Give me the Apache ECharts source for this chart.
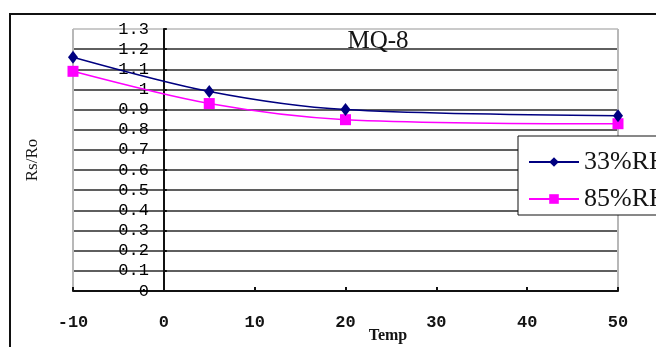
<!DOCTYPE html>
<html>
<head>
<meta charset="utf-8">
<script src="https://cdn.jsdelivr.net/npm/echarts@6/dist/echarts.min.js"></script>
<style>
  html, body { margin: 0; padding: 0; background: #fff; }
  #chart { width: 656px; height: 347px; }
</style>
</head>
<body>
<div id="chart"></div>
<script>
// Sensor ratio Rs/Ro versus temperature at two humidity levels
const temps = [-10, 5, 20, 50];
const rh33 = [1.16, 0.99, 0.90, 0.87];
const rh85 = [1.09, 0.93, 0.85, 0.83];
const seriesNames = ['33%RH', '85%RH'];
const titleText = 'MQ-8';
const xName = 'Temp';
const yName = 'Rs/Ro';

const monoFont = '"Liberation Mono", monospace';
const serifFont = '"Liberation Serif", serif';
const ink = '#141414';

// plot box in pixels
const gridLeft = 73, gridRight = 38, gridTop = 29, gridBottom = 56;
const chartW = 656;
const xMin = -10, xMax = 50;
// the value axis crosses the temperature axis at Temp = 0
const plotW = chartW - gridLeft - gridRight;
const yAxisOffset = -plotW * (0 - xMin) / (xMax - xMin);

// 14 horizontal grid lines (0 .. 1.3); the top one is the light plot border
const ySplitColors = [];
for (let i = 0; i < 13; i++) ySplitColors.push('#2a2a2a');
ySplitColors.push('#b8b8b8');
// vertical lines only at the plot's left and right borders
const clear = 'rgba(0,0,0,0)';
const xSplitColors = ['#b8b8b8', clear, clear, clear, clear, clear, '#b8b8b8'];

const chart = echarts.init(document.getElementById('chart'), null, { renderer: 'canvas' });

chart.setOption({
  animation: false,
  backgroundColor: '#fff',
  title: {
    text: titleText,
    left: 373, top: 24,
    textAlign: 'center',
    textStyle: { fontFamily: serifFont, fontSize: 25, fontWeight: 'normal', color: ink }
  },
  legend: {
    orient: 'vertical',
    left: 518, top: 136,
    padding: [13, 40, 3, 10],
    itemGap: 11,
    itemWidth: 50, itemHeight: 12,
    backgroundColor: '#fff',
    borderColor: '#111', borderWidth: 1, borderRadius: 0,
    textStyle: { fontFamily: serifFont, fontSize: 26, color: ink },
    data: seriesNames
  },
  grid: { left: gridLeft, top: gridTop, right: gridRight, bottom: gridBottom, containLabel: false },
  xAxis: {
    type: 'value',
    min: xMin, max: xMax, interval: 10,
    axisLine: { show: true, onZero: false, lineStyle: { color: '#111', width: 2 } },
    axisTick: { show: true, inside: true, length: 4, lineStyle: { color: '#111', width: 2 } },
    axisLabel: { margin: 23, fontFamily: monoFont, fontSize: 17, fontWeight: 'bold', color: ink },
    splitLine: { show: true, lineStyle: { color: xSplitColors, width: 2 } }
  },
  yAxis: {
    type: 'value',
    min: 0, max: 1.3, interval: 0.1,
    position: 'left',
    offset: yAxisOffset,
    axisLine: { show: true, onZero: false, lineStyle: { color: '#111', width: 2 } },
    axisTick: { show: true, inside: true, length: 3, lineStyle: { color: '#111', width: 2 } },
    axisLabel: { margin: 15, fontFamily: monoFont, fontSize: 17, color: '#000' },
    splitLine: { show: true, lineStyle: { color: ySplitColors, width: 1.6 } }
  },
  series: [
    {
      name: seriesNames[0],
      type: 'line',
      data: temps.map((t, i) => [t, rh33[i]]),
      smooth: 0.3,
      symbol: 'diamond',
      symbolSize: [10, 13],
      lineStyle: { color: '#000080', width: 1.5 },
      itemStyle: { color: '#000080' },
      z: 4
    },
    {
      name: seriesNames[1],
      type: 'line',
      data: temps.map((t, i) => [t, rh85[i]]),
      smooth: 0.3,
      symbol: 'rect',
      symbolSize: 11,
      lineStyle: { color: '#ff00ff', width: 1.5 },
      itemStyle: { color: '#ff00ff' },
      z: 3
    }
  ],
  graphic: [
    {
      type: 'rect',
      shape: { x: 10, y: 14, width: 800, height: 500 },
      style: { fill: 'none', stroke: '#111', lineWidth: 2 },
      silent: true, z: -10
    },
    {
      type: 'text',
      x: 33, y: 160,
      rotation: Math.PI / 2,
      style: {
        text: yName, fontFamily: serifFont, fontSize: 17, fill: ink,
        textAlign: 'center', textVerticalAlign: 'middle'
      }
    },
    {
      type: 'text',
      x: 388, y: 336,
      style: {
        text: xName, fontFamily: serifFont, fontSize: 16, fontWeight: 'bold', fill: ink,
        textAlign: 'center', textVerticalAlign: 'middle'
      }
    }
  ]
});
</script>
</body>
</html>
